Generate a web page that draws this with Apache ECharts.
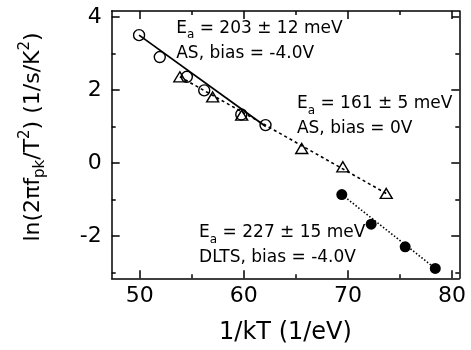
<!DOCTYPE html>
<html>
<head>
<meta charset="utf-8">
<script src="https://cdn.jsdelivr.net/npm/echarts@6/dist/echarts.min.js"></script>
<style>
  html, body { margin: 0; padding: 0; background: #fff; }
  #chart { width: 471px; height: 350px; }
</style>
</head>
<body>
<div id="chart"></div>
<script>
// open circles: AS, bias = -4.0V
const asM4X = [49.93, 51.92, 54.52, 56.19, 59.75, 62.08];
const asM4Y = [3.50, 2.90, 2.36, 1.99, 1.33, 1.04];
// open triangles: AS, bias = 0V
const as0X = [53.85, 57.0, 59.79, 65.56, 69.51, 73.68];
const as0Y = [2.36, 1.81, 1.31, 0.40, -0.10, -0.83];
// filled circles: DLTS, bias = -4.0V
const dltsX = [69.41, 72.23, 75.50, 78.39];
const dltsY = [-0.86, -1.67, -2.29, -2.88];
// fitted lines, end points
const fitM4X = [49.93, 62.1];
const fitM4Y = [3.50, 1.00];
const fit0X = [53.85, 73.68];
const fit0Y = [2.36, -0.83];
const fitDltsX = [69.41, 78.39];
const fitDltsY = [-0.86, -2.88];

// axes
const xRange = [47.3, 80.7];
const yRange = [-3.15, 4.16];
const xMajor = [50, 60, 70, 80];
const xMinor = [55, 65, 75];
const yMajor = [-2, 0, 2, 4];
const yMinor = [-3, -1, 1, 3];

// annotation texts and where they sit (data coords of top-left corner)
const notes = [
  { ea: '203 ± 12 meV', run: 'AS, bias = -4.0V', at: [53.5, 4.02] },
  { ea: '161 ± 5 meV', run: 'AS, bias = 0V', at: [65.1, 1.96] },
  { ea: '227 ± 15 meV', run: 'DLTS, bias = -4.0V', at: [55.7, -1.57] }
];

const FONT = 'DejaVu Sans';
const pairs = (xs, ys) => xs.map((x, i) => [x, ys[i]]);

function axis(dim, position, ticks, len, showLine, showLabel) {
  const range = dim === 'x' ? xRange : yRange;
  return {
    type: 'value',
    position,
    min: range[0],
    max: range[1],
    splitLine: { show: false },
    axisLine: { show: showLine, onZero: false, lineStyle: { color: '#000', width: 1.5 } },
    axisTick: {
      show: true,
      inside: true,
      length: len,
      customValues: ticks,
      lineStyle: { color: '#000', width: 1.5 }
    },
    axisLabel: {
      show: showLabel,
      customValues: ticks,
      color: '#000',
      fontFamily: FONT,
      fontSize: 22,
      margin: dim === 'x' ? 7 : 10
    }
  };
}

const chart = echarts.init(document.getElementById('chart'));

const xAxes = [
  axis('x', 'bottom', xMajor, 8, true, true),
  axis('x', 'bottom', xMinor, 4, false, false),
  axis('x', 'top', xMajor, 8, true, false),
  axis('x', 'top', xMinor, 4, false, false)
];
xAxes[0].name = '1/kT (1/eV)';
xAxes[0].nameLocation = 'middle';
xAxes[0].nameGap = 42;
xAxes[0].nameTextStyle = { color: '#000', fontFamily: FONT, fontSize: 24 };

const yAxes = [
  axis('y', 'left', yMajor, 8, true, true),
  axis('y', 'left', yMinor, 4, false, false),
  axis('y', 'right', yMajor, 8, true, false),
  axis('y', 'right', yMinor, 4, false, false)
];

const fitLine = (xs, ys, type, w) => ({
  type: 'line',
  data: pairs(xs, ys),
  showSymbol: false,
  silent: true,
  z: 1,
  lineStyle: { color: '#000', width: w, type, opacity: 1 }
});

const hollow = { color: 'rgba(0,0,0,0)', borderColor: '#000', borderWidth: 1.4, opacity: 1 };

chart.setOption({
  animation: false,
  backgroundColor: '#fff',
  textStyle: { fontFamily: FONT },
  grid: { left: 111.7, right: 11.7, top: 11, bottom: 71.7 },
  xAxis: xAxes,
  yAxis: yAxes,
  series: [
    fitLine(fitM4X, fitM4Y, 'solid', 1.8),
    fitLine(fit0X, fit0Y, [3, 3], 1.6),
    fitLine(fitDltsX, fitDltsY, [1.5, 2], 1.6),
    {
      type: 'scatter',
      data: pairs(asM4X, asM4Y),
      symbol: 'circle',
      symbolSize: 11,
      z: 3,
      itemStyle: hollow
    },
    {
      type: 'scatter',
      data: pairs(as0X, as0Y),
      symbol: 'triangle',
      symbolSize: [12, 10],
      z: 3,
      itemStyle: hollow
    },
    {
      type: 'scatter',
      data: pairs(dltsX, dltsY),
      symbol: 'circle',
      symbolSize: 11,
      z: 3,
      itemStyle: { color: '#000', opacity: 1 }
    }
  ]
});

const rich = {
  n: { fontFamily: FONT, fontSize: 17, lineHeight: 25, verticalAlign: 'middle' },
  sub: { fontFamily: FONT, fontSize: 12, lineHeight: 25, padding: [10, 0, 0, 0], verticalAlign: 'bottom' }
};

const yRich = {
  n: { fontFamily: FONT, fontSize: 22, lineHeight: 30, verticalAlign: 'middle' },
  sub: { fontFamily: FONT, fontSize: 15, lineHeight: 30, verticalAlign: 'bottom' },
  sup: { fontFamily: FONT, fontSize: 15, lineHeight: 30, verticalAlign: 'top' }
};

const graphics = notes.map((nt) => {
  const p = chart.convertToPixel({ gridIndex: 0 }, nt.at);
  return {
    type: 'text',
    x: p[0],
    y: p[1],
    z: 10,
    style: {
      text: '{n|E}{sub|a}{n| = ' + nt.ea + '}\n{n|' + nt.run + '}',
      rich,
      fill: '#000',
      align: 'left',
      verticalAlign: 'top'
    }
  };
});

graphics.push({
  type: 'text',
  x: 33,
  y: 137,
  rotation: Math.PI / 2,
  z: 10,
  style: {
    text: '{n|ln(2πf}{sub|pk}{n|/T}{sup|2}{n|) (1/s/K}{sup|2}{n|)}',
    rich: yRich,
    fill: '#000',
    align: 'center',
    verticalAlign: 'middle'
  }
});

chart.setOption({ graphic: graphics });
</script>
</body>
</html>
